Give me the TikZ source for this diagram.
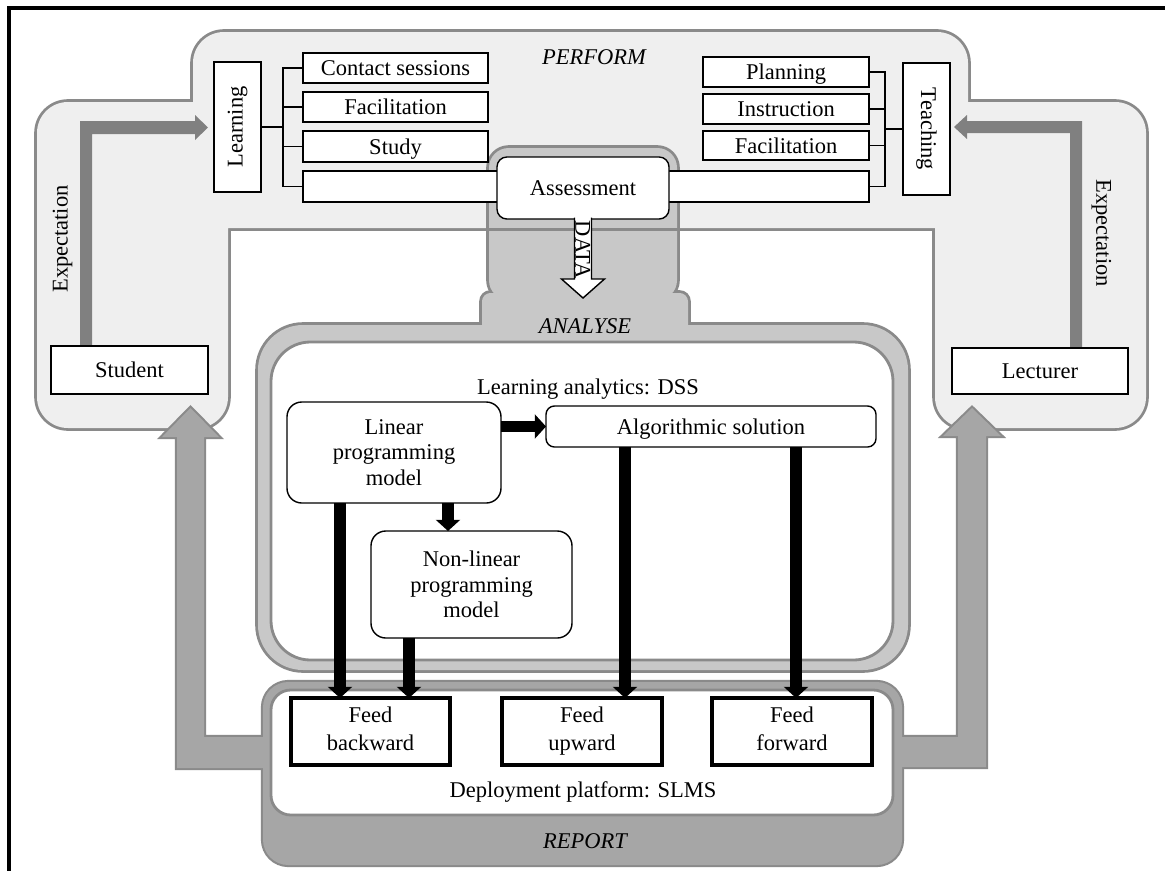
\documentclass[tikz,border=0pt]{standalone}
\usepackage{fontspec}
\setmainfont{Liberation Serif}
\usepackage{graphicx}
\usetikzlibrary{arrows.meta}
\definecolor{pfill}{HTML}{EFEFEF}
\definecolor{gline}{HTML}{8A8A8A}
\definecolor{afill}{HTML}{C8C8C8}
\definecolor{rfill}{HTML}{A6A6A6}
\definecolor{efill}{HTML}{808080}
\newcommand\dfont{\fontsize{16}{18.2}\selectfont}
\newcommand\bx[7][]{\node[#1, minimum width={(#5-#3)*0.025cm}, minimum height={(#6-#4)*0.025cm}] (#2) at ({(#3+#5)/2},{(#4+#6)/2}) {#7};}
\begin{document}
\begin{tikzpicture}[x=0.025cm, y=-0.025cm,
  every node/.style={inner sep=0pt, outer sep=0pt, font=\dfont},
  lbl/.style={text height=10.9pt, text depth=0.2pt},
  pbox/.style={draw=black, line width=1.2pt, fill=white, lbl},
  sbox/.style={draw=black, line width=1.2pt, fill=white},
  rbox/.style={draw=black, line width=1pt, fill=white, rounded corners=#1},
  rbox/.default=7pt,
  fdbox/.style={draw=black, line width=2.5pt, fill=white, align=center, font=\fontsize{16}{19.9}\selectfont},
  conn/.style={draw=black, line width=1pt},
  barrow/.style={line width=8pt, -{Triangle[width=17.5pt, length=8pt, line width=0pt]}},
  ital/.style={lbl, font=\dfont\itshape}]
\useasboundingbox (0,0) rectangle (1165,870);
% frame
\draw[line width=2.2pt] (9,872) -- (9,8) -- (1167,8);
% ---------- PERFORM region ----------
\draw[gline, line width=4pt, rounded corners=22pt] (193,32) rectangle (968,228) (37,102) rectangle (228,428) (935,102) rectangle (1146,428);
\fill[pfill, rounded corners=22pt] (193,32) rectangle (968,228) (37,102) rectangle (228,428) (935,102) rectangle (1146,428);
% ---------- ANALYSE region ----------
\draw[gline, line width=4pt, rounded corners=14pt] (489,148) rectangle (677,300);
\draw[gline, line width=4pt, rounded corners=6pt] (482,293) rectangle (688,345);
\draw[gline, line width=4pt, rounded corners=32pt] (258,325) rectangle (908,670);
\fill[afill, rounded corners=14pt] (489,148) rectangle (677,300);
\fill[afill, rounded corners=6pt] (482,293) rectangle (688,345);
\fill[afill, rounded corners=32pt] (258,325) rectangle (908,670);
\draw[gline, line width=2pt, fill=white, rounded corners=28pt] (271,342) rectangle (893,660);
\draw[gline, line width=2pt] (487,229.5) -- (679,229.5);
% ---------- REPORT region and feedback arrows ----------
\draw[gline, line width=3pt, line join=miter] (190.5,408) -- (219,437) -- (204,437) -- (204,737) -- (270,737) -- (270,768) -- (177,768) -- (177,437) -- (162,437) -- cycle;
\draw[gline, line width=3pt, line join=miter] (972,408) -- (1001,436) -- (986,436) -- (986,767) -- (895,767) -- (895,737) -- (958,737) -- (958,436) -- (943,436) -- cycle;
\draw[gline, line width=3pt, rounded corners=18pt] (263,682) rectangle (902,865);
\fill[rfill, line join=miter] (190.5,408) -- (219,437) -- (204,437) -- (204,737) -- (270,737) -- (270,768) -- (177,768) -- (177,437) -- (162,437) -- cycle;
\fill[rfill, line join=miter] (972,408) -- (1001,436) -- (986,436) -- (986,767) -- (895,767) -- (895,737) -- (958,737) -- (958,436) -- (943,436) -- cycle;
\fill[rfill, rounded corners=18pt] (263,682) rectangle (902,865);
\draw[gline, line width=2pt, fill=white, rounded corners=14pt] (271,690) rectangle (893,815);
% ---------- Expectation arrows ----------
\fill[efill] (80,346) -- (80,121) -- (195,121) -- (195,115) -- (208,127.5) -- (195,140) -- (195,134) -- (92,134) -- (92,346) -- cycle;
\fill[efill] (1082,348) -- (1082,121) -- (967,121) -- (967,115) -- (954,127) -- (967,139) -- (967,133) -- (1070,133) -- (1070,348) -- cycle;
\node[lbl, rotate=90] (expL) at (60,239) {Expectation};
\node[lbl, rotate=-90] (expR) at (1104,233) {Expectation};
% ---------- PERFORM contents ----------
\bx[pbox]{student}{51}{346}{208}{394}{Student}
\bx[pbox]{lecturer}{952}{348}{1128}{394}{Lecturer}
\bx[sbox]{learning}{214}{62}{261}{192}{\rotatebox{90}{Learning}}
\bx[sbox]{teaching}{903}{63}{950}{195}{\rotatebox{-90}{Teaching}}
\bx[pbox]{contact}{303}{53}{488}{83}{Contact sessions}
\bx[pbox]{facilA}{303}{92}{488}{122}{Facilitation}
\bx[pbox]{study}{303}{131}{488}{162}{Study}
\bx[pbox]{planning}{703}{57}{869}{87}{Planning}
\bx[pbox]{instruction}{703}{94}{869}{124}{Instruction}
\bx[pbox]{facilB}{703}{131}{869}{160}{Facilitation}
\bx[pbox]{asslong}{303}{171}{869}{202}{}
\bx[rbox=7pt, lbl]{assess}{497}{157}{669}{219}{Assessment}
\draw[conn] (contact.west) -- ++(-20,0) coordinate (lb) |- (asslong.west);
\draw[conn] (facilA.west) -- (facilA.west -| lb);
\draw[conn] (study.west) -- (study.west -| lb);
\draw[conn] (learning.east) -- (learning.east -| lb);
\draw[conn] (planning.east) -- ++(16,0) coordinate (rb) |- (asslong.east);
\draw[conn] (instruction.east) -- (instruction.east -| rb);
\draw[conn] (facilB.east) -- (facilB.east -| rb);
\draw[conn] (teaching.west) -- (teaching.west -| rb);
% DATA arrow
\draw[line width=1pt, fill=white] (574.5,217.6) -- (574.5,279) -- (561.5,279) -- (583,298) -- (604.5,279) -- (591.5,279) -- (591.5,217.6);
\node[lbl, rotate=-90] (data) at (583,250) {DATA};
\node[ital] (perform) at (594,57) {PERFORM};
\node[ital] (analyse) at (585,326) {ANALYSE};
\node[ital] (report) at (585,841) {REPORT};
% ---------- ANALYSE contents ----------
\node[lbl] (dss) at (588,387) {Learning analytics: DSS};
\bx[rbox=10.5pt, align=center]{linear}{287}{402}{501}{503}{Linear\\programming\\model}
\bx[rbox=10.5pt, align=center]{nonlin}{371}{531}{572}{638}{Non-linear\\programming\\model}
\bx[rbox=6pt, lbl]{algo}{546}{406}{876}{447}{Algorithmic solution}
% ---------- REPORT contents ----------
\bx[fdbox]{fback}{291}{698}{450}{765}{Feed\\backward\vphantom{p}}
\bx[fdbox]{fup}{502}{698}{662}{765}{Feed\\upward}
\bx[fdbox]{ffwd}{712}{698}{872}{765}{Feed\\forward\vphantom{p}}
\node[lbl] (slms) at (583,790) {Deployment platform: SLMS};
% ---------- black arrows ----------
\coordinate (xa) at (340,0);
\coordinate (xb) at (409,0);
\coordinate (xc) at (625,0);
\coordinate (xd) at (796,0);
\coordinate (xe) at (448,0);
\draw[barrow] (linear.east |- algo) -- (algo.west);
\draw[barrow] (linear.south -| xe) -- (nonlin.north -| xe);
\draw[barrow] (linear.south -| xa) -- (fback.north -| xa);
\draw[barrow] (nonlin.south -| xb) -- (fback.north -| xb);
\draw[barrow] (algo.south -| xc) -- (fup.north -| xc);
\draw[barrow] (algo.south -| xd) -- (ffwd.north -| xd);
\end{tikzpicture}
\end{document}
